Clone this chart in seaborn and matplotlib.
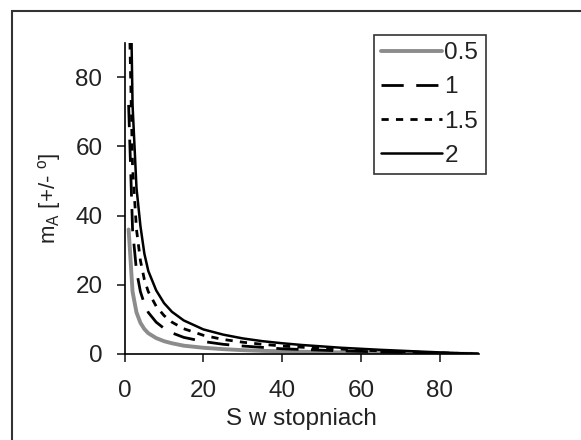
import matplotlib
matplotlib.use("Agg")
import matplotlib.pyplot as plt
from matplotlib.patches import Rectangle
import seaborn as sns
import pandas as pd

# Data
S = [1, 2, 3, 4, 5, 6, 8, 10, 12, 15, 20, 25, 30, 35, 40, 45, 50, 55, 60, 65, 70, 75, 80, 85, 90]
m_05 = [36.0, 18.0, 12.0, 9.0, 7.2, 6.0, 4.6, 3.7, 3.1, 2.4, 1.8, 1.4, 1.1, 0.9, 0.8, 0.65, 0.55, 0.46, 0.38, 0.30, 0.24, 0.17, 0.11, 0.06, 0.0]
m_1 = [72.0, 36.0, 24.0, 18.0, 14.5, 12.0, 9.2, 7.4, 6.1, 4.8, 3.6, 2.8, 2.3, 1.9, 1.5, 1.3, 1.1, 0.9, 0.75, 0.6, 0.47, 0.35, 0.23, 0.11, 0.0]
m_15 = [108.0, 54.0, 36.0, 27.0, 21.5, 18.0, 13.8, 11.1, 9.2, 7.3, 5.4, 4.2, 3.4, 2.8, 2.3, 1.95, 1.6, 1.4, 1.1, 0.9, 0.7, 0.5, 0.34, 0.17, 0.0]
m_2 = [144.0, 72.0, 48.0, 37.0, 29.0, 24.0, 18.4, 14.7, 12.2, 9.7, 7.1, 5.6, 4.5, 3.7, 3.1, 2.6, 2.2, 1.8, 1.5, 1.2, 0.95, 0.7, 0.46, 0.23, 0.0]
labels = ["0.5", "1", "1.5", "2"]
x_ticks = [0, 20, 40, 60, 80]
y_ticks = [0, 20, 40, 60, 80]

sns.set_style("white")
plt.rcParams["font.family"] = ["Liberation Sans", "DejaVu Sans"]
plt.rcParams["mathtext.fontset"] = "custom"
plt.rcParams["mathtext.rm"] = "Liberation Sans"

fig = plt.figure(figsize=(5.81, 4.40), dpi=100)
ax = fig.add_axes([0.2146, 0.1955, 0.6098, 0.7075])

series = [m_05, m_1, m_15, m_2]
styles = [
    dict(color="#8c8c8c", lw=2.8, ls="-"),
    dict(color="black", lw=2.0, ls=(0, (8, 4.5))),
    dict(color="black", lw=2.0, ls=(0, (2.6, 2.6))),
    dict(color="black", lw=1.8, ls="-"),
]
for vals, lab, st in zip(series, labels, styles):
    df = pd.DataFrame({"S": S, "m": vals})
    sns.lineplot(data=df, x="S", y="m", ax=ax, label=lab, color=st["color"],
                 linewidth=st["lw"], linestyle=st["ls"])

ax.set_xlim(0, 90)
ax.set_ylim(0, 90)
ax.set_xticks(x_ticks)
ax.set_yticks(y_ticks)
ax.tick_params(axis="both", direction="out", length=6, width=1.2, labelsize=17.5,
               colors="#222222", bottom=True, left=True)
ax.tick_params(axis="y", pad=10)
ax.tick_params(axis="x", pad=13)
for sp in ["top", "right"]:
    ax.spines[sp].set_visible(False)
for sp in ["left", "bottom"]:
    ax.spines[sp].set_color("black")
    ax.spines[sp].set_linewidth(1.2)

ax.set_xlabel("S w stopniach", fontsize=17.5, labelpad=4, color="#222222")
ax.set_ylabel(r"m$_\mathregular{A}$ [+/- $^\mathregular{o}$]", fontsize=16,
              labelpad=9, color="#222222")

leg = ax.legend(loc="upper left", bbox_to_anchor=(374 / 581, 1 - 35 / 440),
                bbox_transform=fig.transFigure, fontsize=17.5, frameon=True,
                fancybox=False, edgecolor="black", handlelength=2.5,
                handletextpad=0.1, labelspacing=0.5, borderpad=0.3,
                borderaxespad=0)
leg.get_frame().set_linewidth(1.2)
for t in leg.get_texts():
    t.set_color("#222222")

fig.patches.append(Rectangle((12 / 581, -0.05), 1.2, 1 - 11 / 440 + 0.05,
                             transform=fig.transFigure, fill=False,
                             edgecolor="#333333", linewidth=1.5))

fig.savefig("out.png", dpi=100)
